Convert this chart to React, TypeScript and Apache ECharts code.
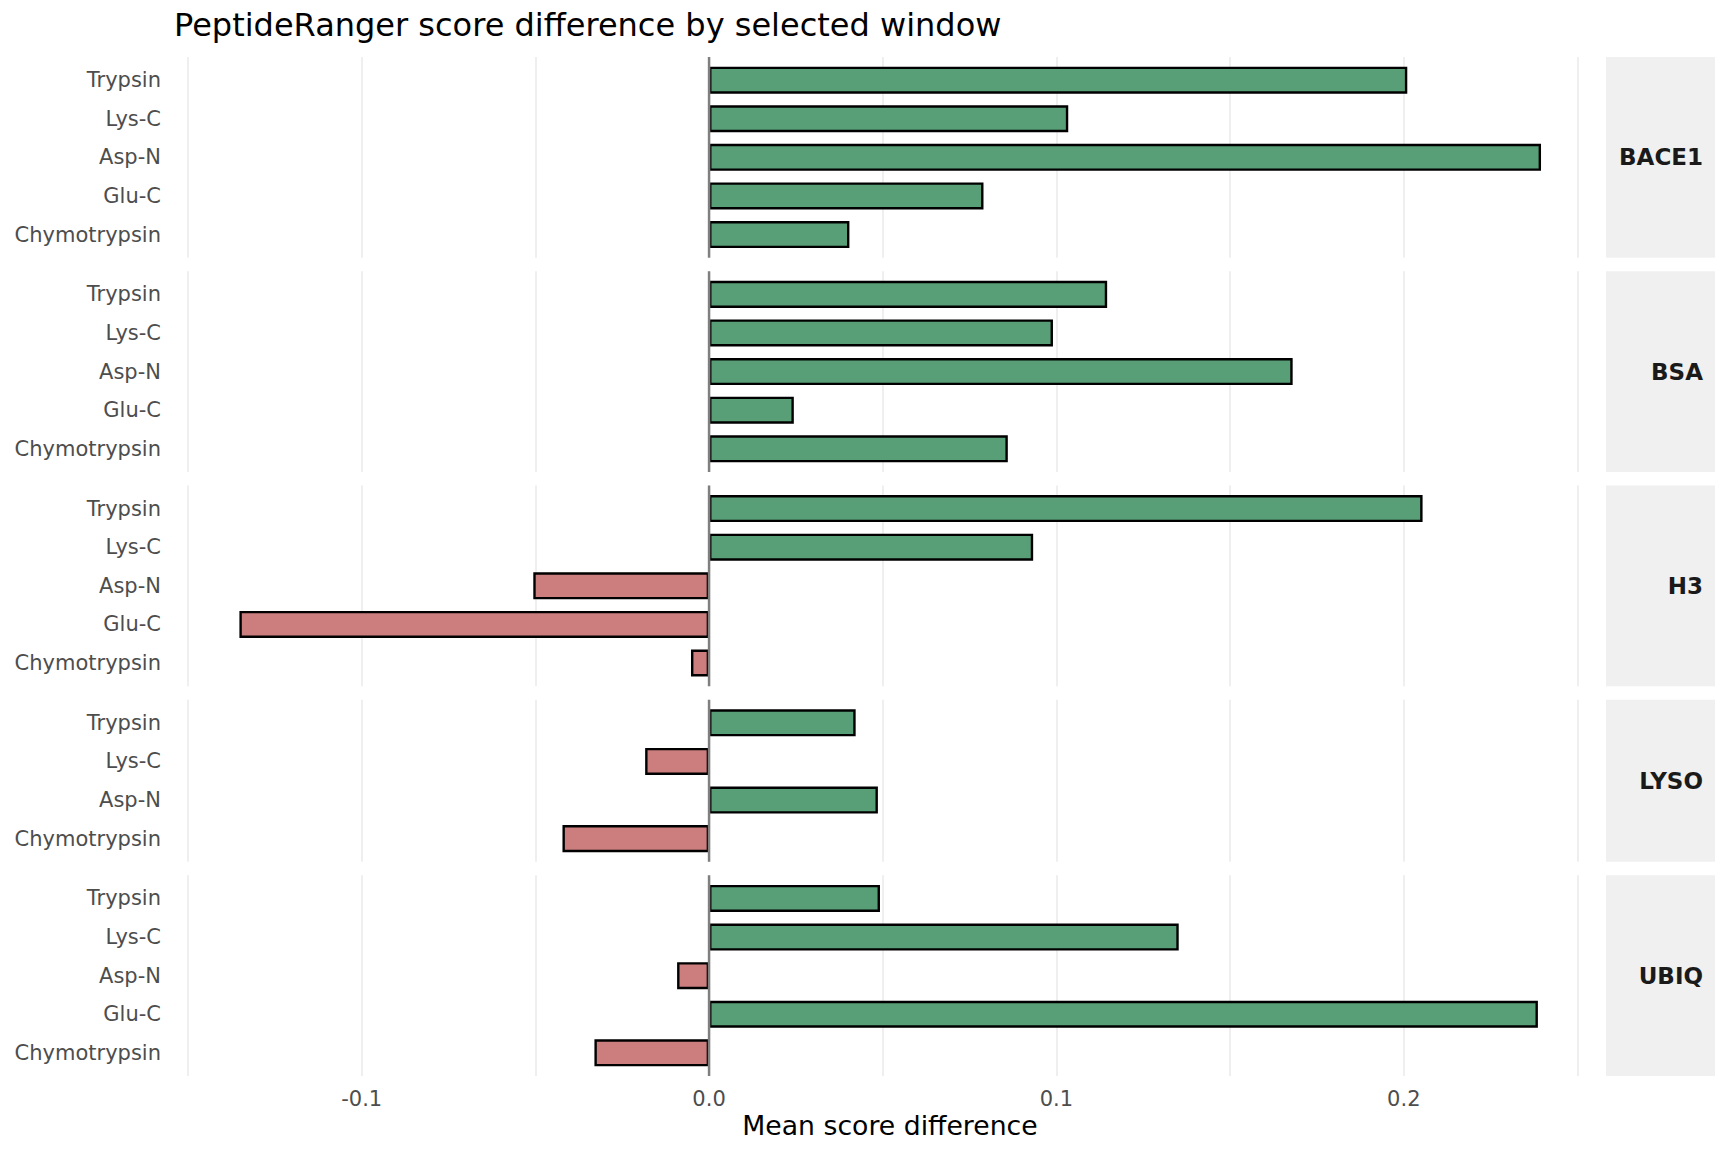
import React, { useEffect, useRef } from "react";
import * as echarts from "echarts";

// Facet rows (one panel per protein) and the enzyme windows inside each
const PROTEINS = ["BACE1", "BSA", "H3", "LYSO", "UBIQ"];
const ENZYMES_FULL = ["Trypsin", "Lys-C", "Asp-N", "Glu-C", "Chymotrypsin"];
const ENZYMES_LYSO = ["Trypsin", "Lys-C", "Asp-N", "Chymotrypsin"];

// Mean PeptideRanger score difference per enzyme, in the order above
const bace1Diff = [0.201, 0.1034, 0.2395, 0.079, 0.0404];
const bsaDiff = [0.1146, 0.099, 0.168, 0.0244, 0.086];
const h3Diff = [0.2054, 0.0933, -0.0506, -0.1352, -0.0052];
const lysoDiff = [0.0422, -0.0184, 0.0486, -0.0422];
const ubiqDiff = [0.0492, 0.1352, -0.0092, 0.2386, -0.033];

const panelEnzymes = [ENZYMES_FULL, ENZYMES_FULL, ENZYMES_FULL, ENZYMES_LYSO, ENZYMES_FULL];
const panelValues = [bace1Diff, bsaDiff, h3Diff, lysoDiff, ubiqDiff];

// x axis
const X_MIN = -0.15;
const X_MAX = 0.25;
const X_STEP = 0.05;
const X_TICK_LABELS = ["-0.1", "0.0", "0.1", "0.2"];

const TITLE = "PeptideRanger score difference by selected window";
const X_TITLE = "Mean score difference";

// layout
const FONT = "DejaVu Sans";
const PLOT_LEFT = 188;
const PLOT_RIGHT = 1577.5;
const PANEL_TOP = 57;
const UNIT = 38.6;
const PANEL_GAP = 13.5;
const STRIP_LEFT = 1606;
const STRIP_WIDTH = 109;

const GREEN = "#589e77";
const RED = "#cc7e7e";

function buildOption() {
  const grid: any[] = [];
  const xAxis: any[] = [];
  const yAxis: any[] = [];
  const series: any[] = [];
  const graphic: any[] = [];
  let top = PANEL_TOP;
  const plotWidth = PLOT_RIGHT - PLOT_LEFT;

  PROTEINS.forEach((protein, i) => {
    const cats = panelEnzymes[i];
    const vals = panelValues[i];
    const h = (cats.length + 0.2) * UNIT;
    const last = i === PROTEINS.length - 1;
    const bg = 2 * i;
    const fg = 2 * i + 1;

    // panel background: grid lines and zero reference line
    grid.push({ left: PLOT_LEFT, width: plotWidth, top, height: h });
    xAxis.push({
      type: "value",
      gridIndex: bg,
      min: X_MIN,
      max: X_MAX,
      interval: X_STEP,
      axisLine: { show: false },
      axisTick: { show: false },
      splitLine: { show: true, lineStyle: { color: "#ebebeb", width: 1.6 } },
      axisLabel: {
        show: last,
        margin: 12,
        fontSize: 21,
        fontFamily: FONT,
        color: "#4d4d4d",
        formatter: (v: number) => {
          const s = (Math.round(v * 100) / 100).toFixed(2);
          const t = (Math.round(v * 10) / 10).toFixed(1);
          return Math.abs(parseFloat(s) - parseFloat(t)) < 1e-9 && X_TICK_LABELS.includes(t) ? t : "";
        },
      },
    });
    yAxis.push({ type: "value", gridIndex: bg, min: 0, max: 1, show: false });
    series.push({
      type: "line",
      xAxisIndex: bg,
      yAxisIndex: bg,
      data: [
        [0, 0],
        [0, 1],
      ],
      symbol: "none",
      silent: true,
      lineStyle: { color: "#7f7f7f", width: 2.5 },
      z: 5,
    });

    // bars
    grid.push({ left: PLOT_LEFT, width: plotWidth, top: top + 0.1 * UNIT, height: cats.length * UNIT });
    xAxis.push({ type: "value", gridIndex: fg, min: X_MIN, max: X_MAX, show: false });
    yAxis.push({
      type: "category",
      gridIndex: fg,
      data: cats,
      inverse: true,
      axisLine: { show: false },
      axisTick: { show: false },
      splitLine: { show: false },
      axisLabel: { fontSize: 21, fontFamily: FONT, color: "#4d4d4d", margin: 27 },
    });
    series.push({
      type: "bar",
      xAxisIndex: fg,
      yAxisIndex: fg,
      data: vals,
      barWidth: "70%",
      itemStyle: {
        color: (p: any) => (p.value >= 0 ? GREEN : RED),
        borderColor: "#000000",
        borderWidth: 2.4,
      },
      z: 2,
    });

    // facet strip
    graphic.push({
      type: "rect",
      shape: { x: STRIP_LEFT, y: top, width: STRIP_WIDTH, height: h },
      style: { fill: "#f0f0f0" },
      z: 0,
    });
    graphic.push({
      type: "text",
      x: STRIP_LEFT + STRIP_WIDTH - 12,
      y: top + h / 2,
      style: {
        text: protein,
        fontSize: 23,
        fontWeight: "bold",
        fontFamily: FONT,
        fill: "#1a1a1a",
        align: "right",
        textAlign: "right",
        verticalAlign: "middle",
        textVerticalAlign: "middle",
      },
      z: 1,
    });

    top += h + PANEL_GAP;
  });

  graphic.push({
    type: "text",
    x: 174,
    y: 25,
    style: {
      text: TITLE,
      fontSize: 32,
      fontFamily: FONT,
      fill: "#000000",
      align: "left",
      textAlign: "left",
      verticalAlign: "middle",
      textVerticalAlign: "middle",
    },
  });
  graphic.push({
    type: "text",
    x: 890,
    y: 1125,
    style: {
      text: X_TITLE,
      fontSize: 26.7,
      fontFamily: FONT,
      fill: "#000000",
      align: "center",
      textAlign: "center",
      verticalAlign: "middle",
      textVerticalAlign: "middle",
    },
  });

  return {
    animation: false,
    backgroundColor: "#ffffff",
    textStyle: { fontFamily: FONT },
    grid,
    xAxis,
    yAxis,
    series,
    graphic,
  };
}

export default function App() {
  const ref = useRef<HTMLDivElement>(null);
  useEffect(() => {
    if (!ref.current) return;
    const chart = echarts.init(ref.current, null, { renderer: "svg" });
    chart.setOption(buildOption() as any);
    return () => chart.dispose();
  }, []);
  return (
    <div
      ref={ref}
      style={{ position: "fixed", left: 0, top: 0, width: 1728, height: 1152, background: "#fff" }}
    />
  );
}
